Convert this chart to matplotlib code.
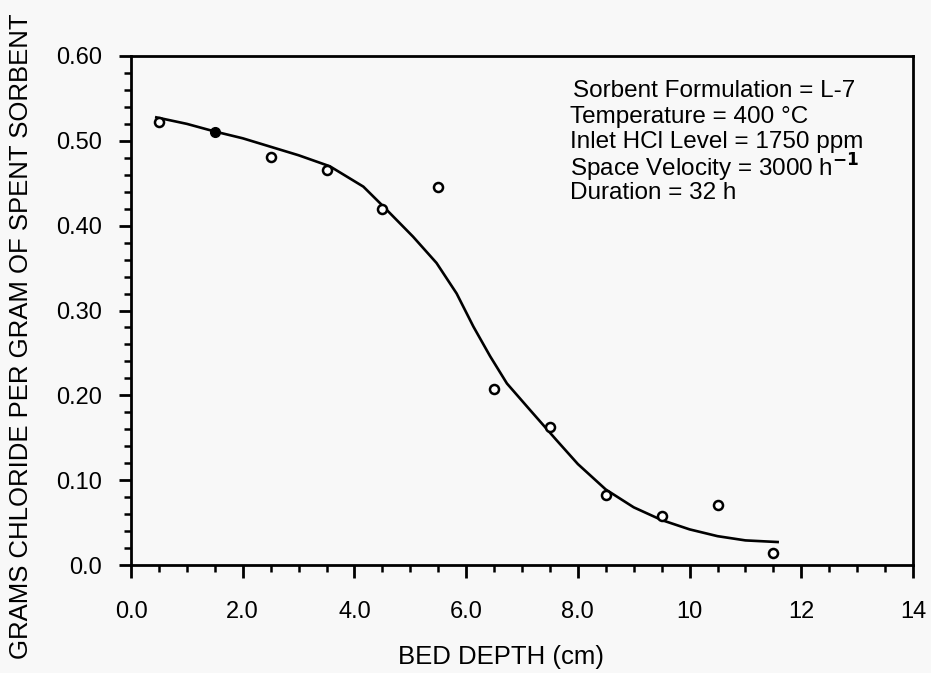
import matplotlib
matplotlib.use("Agg")
import matplotlib.pyplot as plt
from matplotlib.ticker import MultipleLocator, FixedLocator

plt.rcParams['font.family'] = ['Liberation Sans', 'DejaVu Sans']

# measured points
x_pts = [0.5, 2.5, 3.5, 4.5, 5.5, 6.5, 7.5, 8.5, 9.5, 10.5, 11.5]
y_pts = [0.522, 0.481, 0.466, 0.420, 0.445, 0.207, 0.163, 0.083, 0.058, 0.071, 0.014]
x_filled = [1.5]
y_filled = [0.511]

# fitted curve
x_curve = [0.43, 1.0, 1.5, 2.0, 2.5, 3.0, 3.56, 4.16, 4.52, 5.05, 5.47, 5.83, 6.13,
           6.43, 6.73, 7.14, 7.62, 8.0, 8.5, 9.0, 9.5, 10.0, 10.5, 11.0, 11.6]
y_curve = [0.528, 0.520, 0.511, 0.503, 0.493, 0.483, 0.470, 0.446, 0.4225, 0.387,
           0.356, 0.320, 0.281, 0.246, 0.214, 0.183, 0.147, 0.119, 0.089, 0.068,
           0.053, 0.042, 0.034, 0.029, 0.027]

x_ticks = [0, 2, 4, 6, 8, 10, 12, 14]
x_ticklabels = ["0.0", "2.0", "4.0", "6.0", "8.0", "10", "12", "14"]
y_ticks = [0.0, 0.1, 0.2, 0.3, 0.4, 0.5, 0.6]
y_ticklabels = ["0.0", "0.10", "0.20", "0.30", "0.40", "0.50", "0.60"]

notes = ["Sorbent Formulation = L-7",
         "Temperature = 400 \u00b0C",
         "Inlet HCl Level = 1750 ppm",
         "Space Velocity = 3000 h$^{\\mathbf{-1}}$",
         "Duration = 32 h"]

bg = '#f8f8f8'
fig = plt.figure(figsize=(9.31, 6.73), dpi=100, facecolor=bg)
ax = fig.add_axes([131/931, 1-565/673, (913-131)/931, (565-56)/673], facecolor=bg)

ax.plot(x_curve, y_curve, color='black', lw=1.9, zorder=2,
        solid_joinstyle='round', solid_capstyle='butt')
ax.plot(x_pts, y_pts, 'o', ms=6.5, mfc='white', mec='black', mew=1.8, zorder=3)
ax.plot(x_filled, y_filled, 'o', ms=7, mfc='black', mec='black', zorder=3)

ax.set_xlim(0, 14)
ax.set_ylim(0, 0.6)
ax.xaxis.set_major_locator(FixedLocator(x_ticks))
ax.set_xticklabels(x_ticklabels)
ax.xaxis.set_minor_locator(MultipleLocator(0.5))
ax.yaxis.set_major_locator(FixedLocator(y_ticks))
ax.set_yticklabels(y_ticklabels)
ax.yaxis.set_minor_locator(MultipleLocator(0.02))

ax.tick_params(which='major', direction='out', length=9, width=2, labelsize=17)
ax.tick_params(axis='x', which='major', pad=17)
ax.tick_params(axis='y', which='major', pad=12)
ax.tick_params(which='minor', direction='out', length=5, width=1.8)
ax.tick_params(top=False, right=False, which='both')
for s in ax.spines.values():
    s.set_linewidth(2)

ax.set_xlabel("BED DEPTH (cm)", fontsize=18.5)
ax.xaxis.set_label_coords(0.473, -0.158)
ax.set_ylabel("GRAMS CHLORIDE PER GRAM OF SPENT SORBENT", fontsize=18.5)
ax.yaxis.set_label_coords(-0.125, 0.45)

# condition notes, positioned in axes coordinates
for i, t in enumerate(notes):
    xx = (573 - 131) / 782 if i == 0 else (570 - 131) / 782
    yy = (565 - (91 + i * 25.5)) / 509
    ax.text(xx, yy, t, transform=ax.transAxes, fontsize=17.5, va='center', ha='left')

fig.savefig("out.png", dpi=100, facecolor=bg)
